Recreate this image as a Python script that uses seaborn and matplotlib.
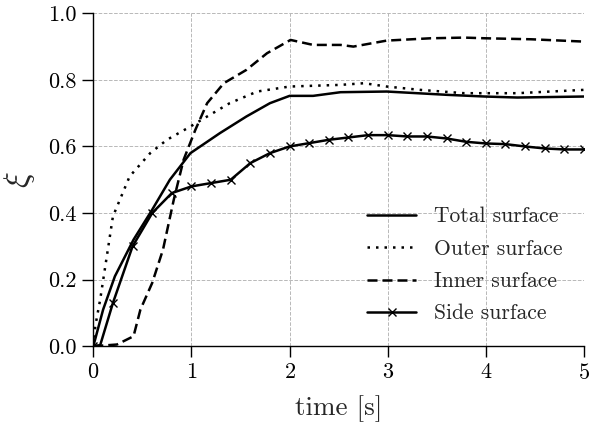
import matplotlib

matplotlib.use("Agg")

import matplotlib.pyplot as plt
import numpy as np
import seaborn as sns

total_t = [0.0, 0.1, 0.22, 0.41, 0.6, 0.78, 0.99, 1.29, 1.56, 1.8, 2.0, 2.24, 2.52,
           2.99, 3.61, 3.99, 4.32, 5.0]
total_xi = [0.0, 0.11, 0.21, 0.32, 0.41, 0.50, 0.58, 0.64, 0.69, 0.73, 0.752, 0.752, 0.763,
            0.765, 0.755, 0.75, 0.747, 0.75]

outer_t = [0.0, 0.02, 0.07, 0.2, 0.37, 0.58, 0.75, 0.99, 1.16, 1.39, 1.67, 2.0, 2.52,
           2.76, 2.99, 3.33, 3.78, 4.32, 5.0]
outer_xi = [0.0, 0.06, 0.14, 0.39, 0.51, 0.58, 0.62, 0.66, 0.69, 0.73, 0.765, 0.78, 0.785,
            0.79, 0.78, 0.77, 0.76, 0.76, 0.77]

inner_t = [0.0, 0.24, 0.41, 0.48, 0.6, 0.71, 0.82, 0.92, 1.04, 1.16, 1.33, 1.56, 1.77,
           2.01, 2.24, 2.52, 2.65, 2.99, 3.44, 3.78, 3.99, 4.46, 5.0]
inner_xi = [0.0, 0.005, 0.03, 0.11, 0.19, 0.29, 0.44, 0.56, 0.65, 0.73, 0.79, 0.83, 0.88,
            0.92, 0.905, 0.905, 0.90, 0.918, 0.925, 0.927, 0.925, 0.922, 0.915]

side_t = [0.0, 0.07, 0.2, 0.4, 0.6, 0.8, 1.0, 1.2, 1.4, 1.6, 1.8, 2.0, 2.2, 2.4, 2.6,
          2.8, 3.0, 3.2, 3.4, 3.6, 3.8, 4.0, 4.2, 4.4, 4.6, 4.8, 5.0]
side_xi = [0.0, 0.003, 0.13, 0.30, 0.40, 0.46, 0.48, 0.49, 0.50, 0.55, 0.58, 0.60, 0.61,
           0.62, 0.627, 0.634, 0.634, 0.63, 0.63, 0.624, 0.614, 0.609, 0.607, 0.60, 0.594,
           0.591, 0.591]
side_marks = [i for i, t in enumerate(side_t) if i != 1]

sns.set_style("ticks")
plt.rcParams["font.family"] = ["cmr10", "DejaVu Serif"]
plt.rcParams["mathtext.fontset"] = "cm"
plt.rcParams["axes.formatter.use_mathtext"] = True

fig = plt.figure(figsize=(6.02, 4.29), dpi=100)
ax = fig.add_axes([0.155, 0.193, 0.815, 0.776])

line_kw = dict(color="black", linewidth=1.8, ax=ax)
sns.lineplot(x=total_t, y=total_xi, linestyle="-", label="Total surface", **line_kw)
sns.lineplot(x=outer_t, y=outer_xi, linestyle=(0, (1, 2.4)), label="Outer surface", **line_kw)
sns.lineplot(x=inner_t, y=inner_xi, linestyle=(0, (4, 2)), label="Inner surface", **line_kw)
sns.lineplot(x=side_t, y=side_xi, linestyle="-", marker="x", markersize=6,
             markeredgewidth=1.0, markeredgecolor="black", markevery=side_marks,
             label="Side surface", **line_kw)

ax.set_xlim(0, 5)
ax.set_ylim(0, 1)
ax.set_xticks(range(6))
ax.set_yticks(np.arange(0, 1.01, 0.2))
ax.set_yticklabels([f"{v:.1f}" for v in np.arange(0, 1.01, 0.2)])
ax.grid(True, linestyle="--", color="#b8b8b8", linewidth=0.7)
ax.set_axisbelow(True)
sns.despine(ax=ax)
for side in ["left", "bottom"]:
    ax.spines[side].set_color("black")
    ax.spines[side].set_linewidth(1.0)
ax.tick_params(axis="both", direction="out", length=8, width=1.0, colors="black",
               labelsize=16, pad=4)

ax.set_xlabel("time [s]", fontsize=19.5, labelpad=9)
ax.set_ylabel(r"$\xi$", fontsize=24, labelpad=8)

ax.legend(loc="lower right", bbox_to_anchor=(0.995, 0.01), frameon=False, fontsize=15.5,
          handlelength=2.3, labelspacing=0.6, handletextpad=0.8)

fig.savefig("out.png", dpi=100)
